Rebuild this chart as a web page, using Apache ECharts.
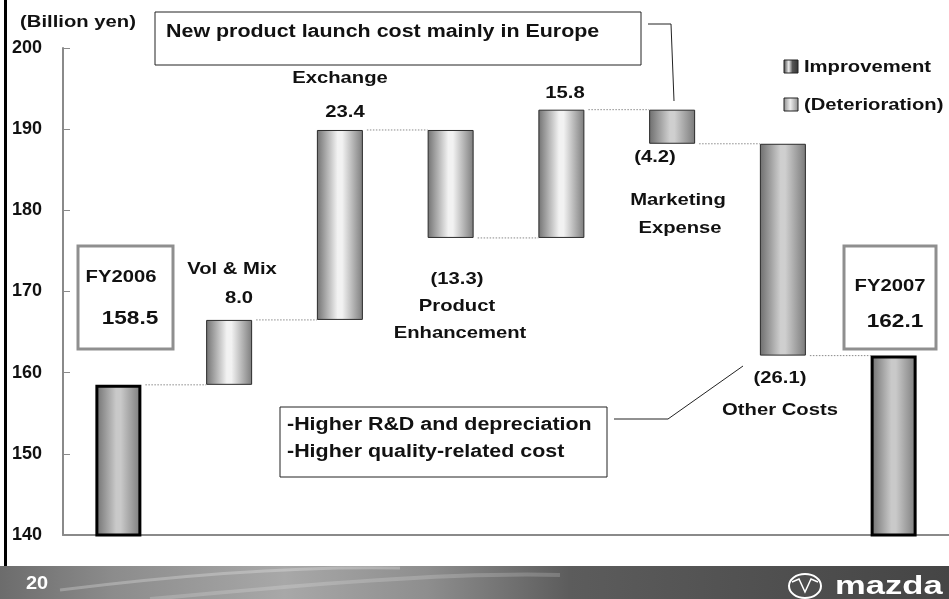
<!DOCTYPE html>
<html>
<head>
<meta charset="utf-8">
<script src="https://cdn.jsdelivr.net/npm/echarts@6/dist/echarts.min.js"></script>
<style>html,body{margin:0;padding:0;background:#fff}#c{width:949px;height:599px}</style>
</head>
<body>
<div id="c"></div>
<script>
// ---------- data ----------
const categories = ['FY2006', 'Vol & Mix', 'Exchange', 'Product Enhancement', '', 'Marketing Expense', 'Other Costs', 'FY2007'];
const startTotal = 158.5;
const changes = [8.0, 23.4, -13.3, 15.8, -4.2, -26.1];
const endTotal = 162.1;
const yTicks = [140, 150, 160, 170, 180, 190, 200];

// ---------- derived from data ----------
const baseVals = [0], heightVals = [startTotal], levels = [startTotal];
let level = startTotal;
changes.forEach(c => {
  const prev = level; level = +(level + c).toFixed(1);
  baseVals.push(Math.min(prev, level)); heightVals.push(Math.abs(c)); levels.push(level);
});
baseVals.push(0); heightVals.push(endTotal);
const fmt = v => v < 0 ? '(' + Math.abs(v).toFixed(1) + ')' : v.toFixed(1);

// ---------- styles ----------
const FONT = '"Liberation Sans", Arial, sans-serif';
const SX = 1.19;
const BAR_W = 46;
const barTone = ['total', 'light', 'light', 'light', 'light', 'mid', 'mid', 'total'];
function grad(peak, edgeL, edgeR) {
  return new echarts.graphic.LinearGradient(0, 0, 1, 0, [
    {offset: 0, color: edgeL}, {offset: 0.45, color: peak}, {offset: 0.55, color: peak}, {offset: 1, color: edgeR}
  ]);
}
const toneStyle = {
  total: {color: grad('#c9c9c9', '#6e6e6e', '#7a7a7a'), borderColor: '#000', borderWidth: 3},
  light: {color: grad('#f2f2f2', '#727272', '#7c7c7c'), borderColor: '#2a2a2a', borderWidth: 1},
  mid:   {color: grad('#cfcfcf', '#6e6e6e', '#7a7a7a'), borderColor: '#2a2a2a', borderWidth: 1}
};

const chart = echarts.init(document.getElementById('c'), null, {renderer: 'canvas'});

function txt(text, x, y, size, align, extra) {
  return Object.assign({
    type: 'text', x: x, y: y, scaleX: SX, z: 100,
    style: {text: text, fontSize: size, fontWeight: 'bold', fontFamily: FONT, fill: '#111',
      align: align || 'center', verticalAlign: 'middle', textAlign: align || 'center', textVerticalAlign: 'middle'}
  }, extra || {});
}
function box(x, y, w, h, stroke, lw) {
  return {type: 'rect', z: 90, shape: {x: x, y: y, width: w, height: h},
    style: {fill: '#fff', stroke: stroke, lineWidth: lw}};
}
function line(points, stroke, lw) {
  return {type: 'polyline', z: 95, shape: {points: points}, style: {stroke: stroke, lineWidth: lw, fill: null}};
}

const graphics = [
  // left frame line
  {type: 'rect', shape: {x: 4, y: 0, width: 3, height: 566}, style: {fill: '#000'}, z: 50},
  // bottom banner
  {type: 'rect', shape: {x: 0, y: 566, width: 949, height: 33}, z: 50,
    style: {fill: new echarts.graphic.LinearGradient(0, 0, 1, 0, [
      {offset: 0, color: '#6c6c6c'}, {offset: 0.12, color: '#8c8c8c'}, {offset: 0.3, color: '#a8a8a8'},
      {offset: 0.45, color: '#8e8e8e'}, {offset: 0.6, color: '#5c5c5c'}, {offset: 1, color: '#454545'}])}},
  {type: 'bezierCurve', z: 51, shape: {x1: 60, y1: 590, x2: 400, y2: 568, cpx1: 180, cpy1: 575, cpx2: 300, cpy2: 566},
    style: {stroke: 'rgba(255,255,255,0.25)', lineWidth: 3}},
  {type: 'bezierCurve', z: 51, shape: {x1: 150, y1: 599, x2: 560, y2: 575, cpx1: 300, cpy1: 585, cpx2: 450, cpy2: 572},
    style: {stroke: 'rgba(255,255,255,0.18)', lineWidth: 4}},
  txt('20', 26, 584, 18, 'left', {scaleX: 1.05, style: {text: '20', fontSize: 19, fontWeight: 'bold', fontFamily: FONT, fill: '#fff', align: 'left', verticalAlign: 'middle', textAlign: 'left', textVerticalAlign: 'middle'}}),
  // mazda logo
  {type: 'ellipse', z: 60, shape: {cx: 805, cy: 586, rx: 16, ry: 12}, style: {stroke: '#fff', lineWidth: 2, fill: null}},
  {type: 'polyline', z: 60, shape: {points: [[792, 582], [799, 579], [805, 592], [811, 579], [818, 582]]}, style: {stroke: '#fff', lineWidth: 1.5, fill: null}},
  txt('mazda', 835, 587, 26, 'left', {scaleX: 1.33, style: {text: 'mazda', fontSize: 26, fontWeight: 'bold', fontFamily: FONT, fill: '#fff', align: 'left', verticalAlign: 'middle', textAlign: 'left', textVerticalAlign: 'middle'}}),

  // unit
  txt('(Billion yen)', 78, 22, 17),

  // top callout
  box(155, 12, 486, 53, '#222', 1),
  txt('New product launch cost mainly in Europe', 166, 32, 18, 'left'),
  line([[648, 24], [671, 24], [674, 101]], '#222', 1),

  // bottom callout
  box(280, 407, 327, 70, '#222', 1),
  txt('-Higher R&D and depreciation', 287, 425, 18, 'left'),
  txt('-Higher quality-related cost', 287, 452, 18, 'left'),
  line([[614, 419], [668, 419], [743, 366]], '#222', 1),

  // total boxes
  box(78, 246, 95, 103, '#8f8f8f', 3),
  txt(categories[0], 121, 277, 17),
  txt(startTotal.toFixed(1), 130, 319, 19),
  box(844, 246, 92, 103, '#8f8f8f', 3),
  txt(categories[7], 890, 286, 17),
  txt(endTotal.toFixed(1), 895, 322, 19),

  // category names and change values
  txt(categories[1], 232, 269, 17),
  txt(fmt(changes[0]), 239, 298, 17),
  txt(categories[2], 340, 78, 17),
  txt(fmt(changes[1]), 345, 112, 17),
  txt(fmt(changes[2]), 457, 279, 17),
  txt('Product', 457, 306, 17),
  txt('Enhancement', 460, 333, 17),
  txt(fmt(changes[3]), 565, 93, 17),
  txt(fmt(changes[4]), 655, 157, 17),
  txt('Marketing', 678, 200, 17),
  txt('Expense', 680, 228, 17),
  txt(fmt(changes[5]), 780, 378, 17),
  txt(categories[6], 780, 410, 17),

  // legend
  {type: 'rect', z: 90, shape: {x: 784, y: 60, width: 14, height: 13},
    style: {stroke: '#222', lineWidth: 1, fill: new echarts.graphic.LinearGradient(0, 0, 1, 0, [
      {offset: 0, color: '#3a3a3a'}, {offset: 0.35, color: '#eeeeee'}, {offset: 0.6, color: '#555'}, {offset: 1, color: '#333'}])}},
  txt('Improvement', 804, 67, 17, 'left'),
  {type: 'rect', z: 90, shape: {x: 784, y: 98, width: 14, height: 13},
    style: {stroke: '#222', lineWidth: 1, fill: new echarts.graphic.LinearGradient(0, 0, 1, 0, [
      {offset: 0, color: '#8a8a8a'}, {offset: 0.45, color: '#eeeeee'}, {offset: 1, color: '#8a8a8a'}])}},
  txt('(Deterioration)', 804, 105, 17, 'left')
];

const option = {
  animation: false,
  backgroundColor: '#fff',
  grid: {left: 63, right: 0, top: 48, bottom: 64},
  xAxis: {
    type: 'category', data: categories,
    axisLine: {lineStyle: {color: '#8a8a8a', width: 2}},
    axisTick: {inside: true, length: 5, lineStyle: {color: '#8a8a8a', width: 1}},
    axisLabel: {show: false}
  },
  yAxis: {
    type: 'value', min: yTicks[0], max: yTicks[yTicks.length - 1], interval: 10,
    axisLine: {show: true, lineStyle: {color: '#8a8a8a', width: 2}},
    axisTick: {show: true, inside: true, length: 7, lineStyle: {color: '#8a8a8a', width: 1}},
    splitLine: {show: false},
    axisLabel: {fontSize: 18, fontWeight: 'bold', fontFamily: FONT, color: '#111', margin: 21}
  },
  series: [
    {type: 'bar', stack: 'w', barWidth: BAR_W, silent: true,
      itemStyle: {color: 'rgba(0,0,0,0)'}, data: baseVals},
    {type: 'bar', stack: 'w', barWidth: BAR_W, z: 5,
      data: heightVals.map((v, i) => ({value: v, itemStyle: toneStyle[barTone[i]]}))},
    {type: 'custom', z: 3, silent: true,
      renderItem: function (params, api) {
        const p = api.coord([api.value(0), api.value(1)]);
        const bw = api.size([1, 0])[0];
        return {type: 'line',
          shape: {x1: p[0] + BAR_W / 2 + 4, y1: p[1], x2: p[0] + bw - BAR_W / 2, y2: p[1]},
          style: {stroke: '#8a8a8a', lineWidth: 1, lineDash: [1.5, 1.5]}};
      },
      encode: {x: 0, y: 1},
      data: levels.map((lv, i) => [i, lv])}
  ],
  graphic: {elements: graphics}
};
chart.setOption(option);
</script>
</body>
</html>
